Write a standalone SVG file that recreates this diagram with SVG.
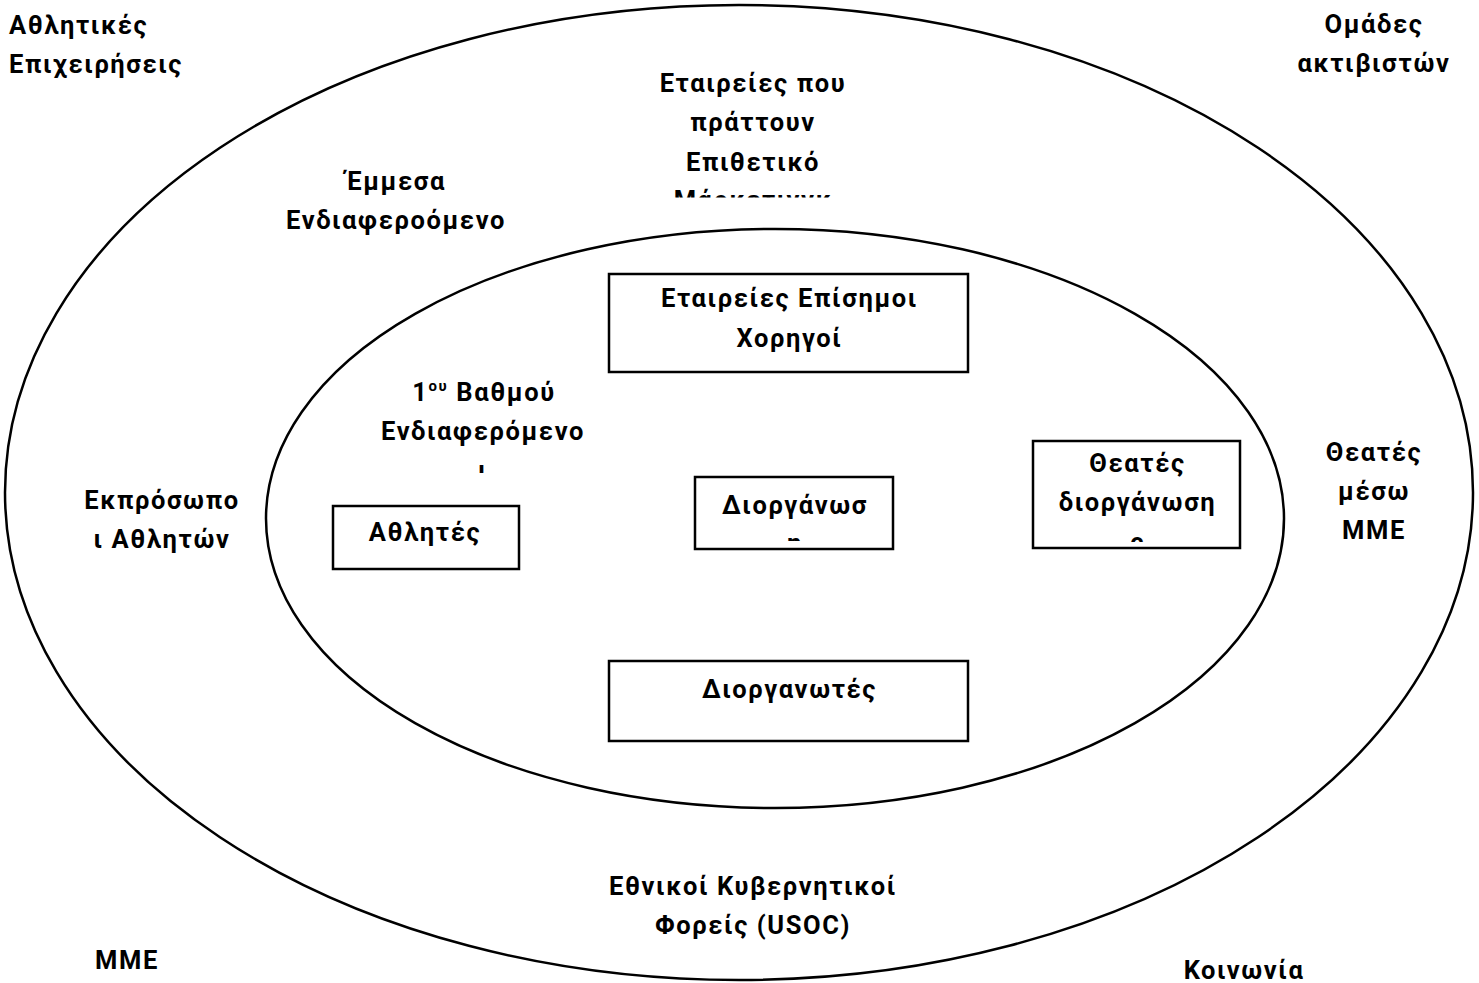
<svg xmlns="http://www.w3.org/2000/svg" width="1479" height="983" viewBox="0 0 1479 983">
<defs>
<style>
text{font-family:Roboto,"Noto Sans",sans-serif;font-size:25.5px;font-weight:bold;letter-spacing:1.6px;fill:#000}
.c{text-anchor:middle}
.shape{fill:none;stroke:#000;stroke-width:2.5}
.box{fill:#fff;stroke:#000;stroke-width:2.5}
</style>
<clipPath id="clipMark"><rect x="600" y="60" width="300" height="137.5"/></clipPath>
<clipPath id="clipFirst"><rect x="360" y="360" width="250" height="113"/></clipPath>
<clipPath id="clipDiorg"><rect x="695" y="477" width="198" height="64"/></clipPath>
<clipPath id="clipTheates"><rect x="1033" y="441" width="207" height="101"/></clipPath>
</defs>
<rect width="1479" height="983" fill="#fff"/>
<g id="rings">
<ellipse id="outer" class="shape" cx="739" cy="492.5" rx="734" ry="487.5"/>
<ellipse id="inner" class="shape" cx="775" cy="518.5" rx="509" ry="289.5"/>
</g>
<g id="connectors"></g>
<g id="athletic-business"><text x="9" y="34">Αθλητικές</text><text x="9" y="73">Επιχειρήσεις</text></g>
<g id="activists"><text class="c" x="1374" y="33">Ομάδες</text><text class="c" x="1374" y="72">ακτιβιστών</text></g>
<g id="ambush" clip-path="url(#clipMark)"><text class="c" x="753" y="92">Εταιρείες που</text><text class="c" x="753" y="131">πράττουν</text><text class="c" x="753" y="171">Επιθετικό</text><text class="c" x="753" y="209">Μάρκετινγκ</text></g>
<g id="indirect"><text class="c" x="396" y="190">Έμμεσα</text><text class="c" x="396" y="229">Ενδιαφεροόμενο</text></g>
<g id="first-degree" clip-path="url(#clipFirst)"><text class="c" x="484" y="401">1<tspan font-size="15" dy="-10">ου</tspan><tspan dy="10"> Βαθμού</tspan></text><text class="c" x="483" y="440">Ενδιαφερόμενο</text><text class="c" x="483" y="479">ι</text></g>
<g id="sponsors"><rect class="box" x="609" y="274" width="359" height="98"/><text class="c" x="789.5" y="307">Εταιρείες Επίσημοι</text><text class="c" x="789.5" y="347">Χορηγοί</text></g>
<g id="athletes"><rect class="box" x="333" y="506" width="186" height="63"/><text class="c" x="425" y="541">Αθλητές</text></g>
<g id="event"><rect class="box" x="695" y="477" width="198" height="72"/><g clip-path="url(#clipDiorg)"><text class="c" x="795" y="514">Διοργάνωσ</text><text class="c" x="795" y="552">η</text></g></g>
<g id="spectators"><rect class="box" x="1033" y="441" width="207" height="107"/><g clip-path="url(#clipTheates)"><text class="c" x="1137.5" y="472">Θεατές</text><text class="c" x="1137.5" y="511">διοργάνωση</text><text class="c" x="1137.5" y="551">ς</text></g></g>
<g id="organizers"><rect class="box" x="609" y="661" width="359" height="80"/><text class="c" x="789.5" y="698">Διοργανωτές</text></g>
<g id="athlete-reps"><text class="c" x="162" y="509">Εκπρόσωπο</text><text class="c" x="162" y="548">ι Αθλητών</text></g>
<g id="media-viewers"><text class="c" x="1374" y="461">Θεατές</text><text class="c" x="1374" y="500">μέσω</text><text class="c" x="1374" y="539">ΜΜΕ</text></g>
<g id="government"><text class="c" x="753" y="895">Εθνικοί Κυβερνητικοί</text><text class="c" x="753" y="934">Φορείς (USOC)</text></g>
<g id="media"><text class="c" x="127" y="969">ΜΜΕ</text></g>
<g id="society"><text class="c" x="1244" y="979">Κοινωνία</text></g>
</svg>
